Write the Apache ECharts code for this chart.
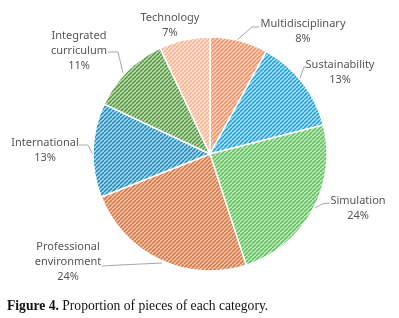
<!DOCTYPE html>
<html><head><meta charset="utf-8">
<script src="https://cdn.jsdelivr.net/npm/echarts@6/dist/echarts.min.js"></script>
<style>html,body{margin:0;padding:0;background:#fff}#c{width:399px;height:318px}</style>
</head><body><div id="c"></div>
<script>
const categories = ['Multidisciplinary', 'Sustainability', 'Simulation', 'Professional\nenvironment', 'International', 'Integrated\ncurriculum', 'Technology'];
const values = [8, 13, 24, 24, 13, 11, 7];
const stripeColors = ['#F0936A', '#22A3D9', '#62C160', '#D67A48', '#2290BE', '#5A9C48', '#F6B596'];
const bgColors = ['#FCD8C6', '#BDE5F6', '#CBEDC8', '#F1CBB4', '#B9DDEE', '#C6DFBB', '#FDE6DA'];
// label layout (centre of text block) and leader-line points
const labelPos = [[303, 31], [340, 72], [358, 208], [68, 262], [45, 150], [79, 51], [170, 25]];
const linePts = [
  [[237, 40], [252, 27], [259, 27]],
  [[300, 78], [304, 67], [306, 67]],
  [[315, 208], [322, 204], [330, 203]],
  [[162, 263], [120, 265], [102, 266]],
  [[93, 155], [88, 145], [79, 145]],
  [[123, 73], [118, 52], [108, 52]],
  null
];

function pattern(fg, bg) {
  const s = 4;
  const cv = document.createElement('canvas');
  cv.width = s; cv.height = s;
  const g = cv.getContext('2d');
  g.fillStyle = bg; g.fillRect(0, 0, s, s);
  g.strokeStyle = fg; g.lineWidth = 1.6;
  g.beginPath();
  for (let k = -1; k <= 1; k++) {
    g.moveTo(k * s, s); g.lineTo(k * s + s, 0);
  }
  g.stroke();
  return { image: cv, repeat: 'repeat' };
}

const chart = echarts.init(document.getElementById('c'), null, { renderer: 'canvas' });
chart.setOption({
  animation: false,
  title: {
    text: '{b|Figure 4.} Proportion of pieces of each category.',
    left: 7, top: 299, padding: 0,
    textStyle: {
      fontFamily: 'Liberation Serif', fontSize: 13.6, color: '#111', fontWeight: 'normal',
      rich: { b: { fontFamily: 'Liberation Serif', fontSize: 13.6, fontWeight: 'bold', color: '#111' } }
    }
  },
  series: [{
    type: 'pie',
    center: [210, 154],
    radius: [0, 117],
    startAngle: 90,
    clockwise: true,
    data: categories.map((c, i) => ({
      name: c, value: values[i],
      itemStyle: { color: pattern(stripeColors[i], bgColors[i]) },
      labelLine: { show: !!linePts[i] }
    })),
    itemStyle: { borderColor: '#fff', borderWidth: 1.5 },
    label: {
      show: true,
      formatter: p => p.name + '\n' + p.value + '%',
      fontFamily: 'Noto Sans', fontSize: 11, color: '#555555',
      lineHeight: 15, align: 'center', overflow: 'none', width: 200
    },
    labelLine: { show: true, lineStyle: { color: '#A6A6A6', width: 1 } },
    labelLayout: function (p) {
      const i = p.dataIndex;
      const r = { x: labelPos[i][0], y: labelPos[i][1], align: 'center', verticalAlign: 'middle' };
      if (linePts[i]) r.labelLinePoints = linePts[i];
      return r;
    }
  }]
});
</script></body></html>
